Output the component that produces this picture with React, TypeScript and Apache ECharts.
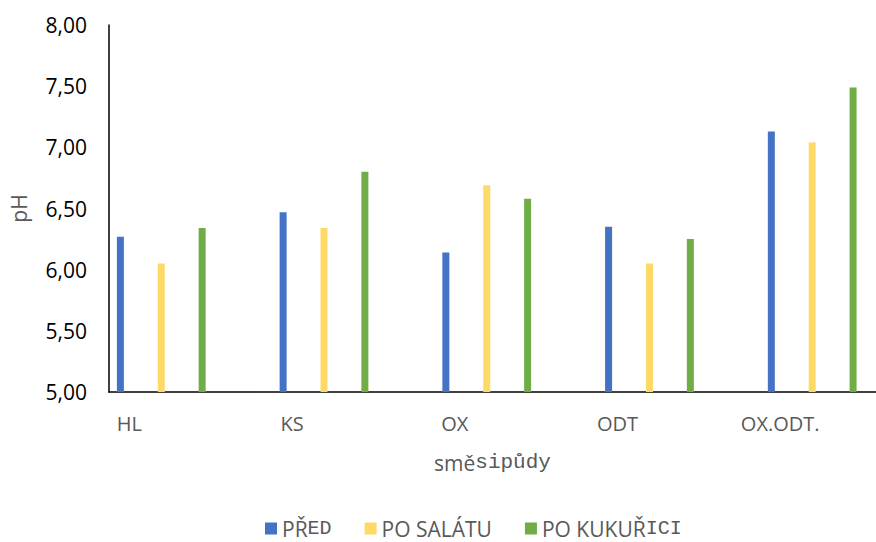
import React, { useEffect, useRef } from "react";
import * as echarts from "echarts";

const categories = ["HL", "KS", "OX", "ODT", "OX.ODT."];
const seriesNames = ["PŘED", "PO SALÁTU", "PO KUKUŘICI"];
const pred = [6.27, 6.47, 6.14, 6.35, 7.13];
const poSalatu = [6.05, 6.34, 6.69, 6.05, 7.04];
const poKukurici = [6.34, 6.8, 6.58, 6.25, 7.49];
const yTicks = { min: 5, max: 8, interval: 0.5 };
const colors = ["#4472C4", "#FFD966", "#70AD47"];

const legendRich: Record<string, string> = {
  "PŘED": "{s|PŘ}{m|ED}",
  "PO SALÁTU": "{s|PO SALÁTU}",
  "PO KUKUŘICI": "{s|PO KUKUŘ}{m|ICI}",
};

export default function App() {
  const ref = useRef<HTMLDivElement>(null);
  useEffect(() => {
    if (!ref.current) return;
    const chart = echarts.init(ref.current, undefined, { renderer: "svg" });
    const values = [pred, poSalatu, poKukurici];
    const gray = "#595959";
    const catIdx = categories.map((_, i) => i);
    chart.setOption({
      animation: false,
      grid: { left: 107, right: 0, top: 25, bottom: 150, containLabel: false },
      legend: {
        left: 265,
        top: 518,
        padding: 0,
        itemWidth: 12,
        itemHeight: 12,
        itemGap: 33,
        icon: "rect",
        data: seriesNames,
        formatter: (n: string) => legendRich[n] || n,
        textStyle: {
          fontFamily: "Open Sans",
          fontSize: 21,
          lineHeight: 20,
          color: gray,
          rich: {
            s: { fontFamily: "Open Sans", fontSize: 21, lineHeight: 20, color: gray },
            m: { fontFamily: "Liberation Mono", fontSize: 20, lineHeight: 20, color: gray },
          },
        },
      },
      xAxis: {
        type: "value",
        min: -0.3212,
        max: 4.392,
        splitLine: { show: false },
        axisTick: { show: false },
        axisLine: { show: true, onZero: false, lineStyle: { color: "#000", width: 1.5 } },
        axisLabel: {
          customValues: catIdx,
          showMinLabel: true,
          showMaxLabel: true,
          margin: 21,
          padding: [0, 64, 0, 0],
          fontFamily: "Open Sans",
          fontSize: 20,
          color: gray,
          formatter: (v: number) => {
            const r = Math.round(v);
            return Math.abs(v - r) < 1e-6 && categories[r] ? categories[r] : "";
          },
        },
        name: "{s|smě}{m|sipůdy}",
        nameLocation: "middle",
        nameGap: 60,
        nameTextStyle: {
          color: gray,
          rich: {
            s: { fontFamily: "Open Sans", fontSize: 21, color: gray },
            m: { fontFamily: "Liberation Mono", fontSize: 21, color: gray },
          },
        },
      },
      yAxis: {
        type: "value",
        min: yTicks.min,
        max: yTicks.max,
        interval: yTicks.interval,
        startValue: yTicks.min,
        splitLine: { show: false },
        axisTick: { show: false },
        axisLine: { show: true, onZero: false, lineStyle: { color: "#000", width: 1.5 } },
        axisLabel: {
          margin: 22,
          fontFamily: "Open Sans",
          fontSize: 21,
          color: "#000",
          formatter: (v: number) => v.toFixed(2).replace(".", ","),
        },
        name: "pH",
        nameLocation: "middle",
        nameGap: 80,
        nameTextStyle: { fontFamily: "Open Sans", fontSize: 21, color: gray },
      },
      series: seriesNames.map((name, k) => ({
        name,
        type: "bar",
        clip: true,
        barWidth: 7,
        barGap: "484%",
        itemStyle: { color: colors[k] },
        data: categories.map((_, i) => [i, values[k][i]]),
      })),
    });
    return () => chart.dispose();
  }, []);
  return (
    <div
      ref={ref}
      style={{ position: "fixed", left: 0, top: 0, width: 876, height: 542, background: "#fff" }}
    />
  );
}
